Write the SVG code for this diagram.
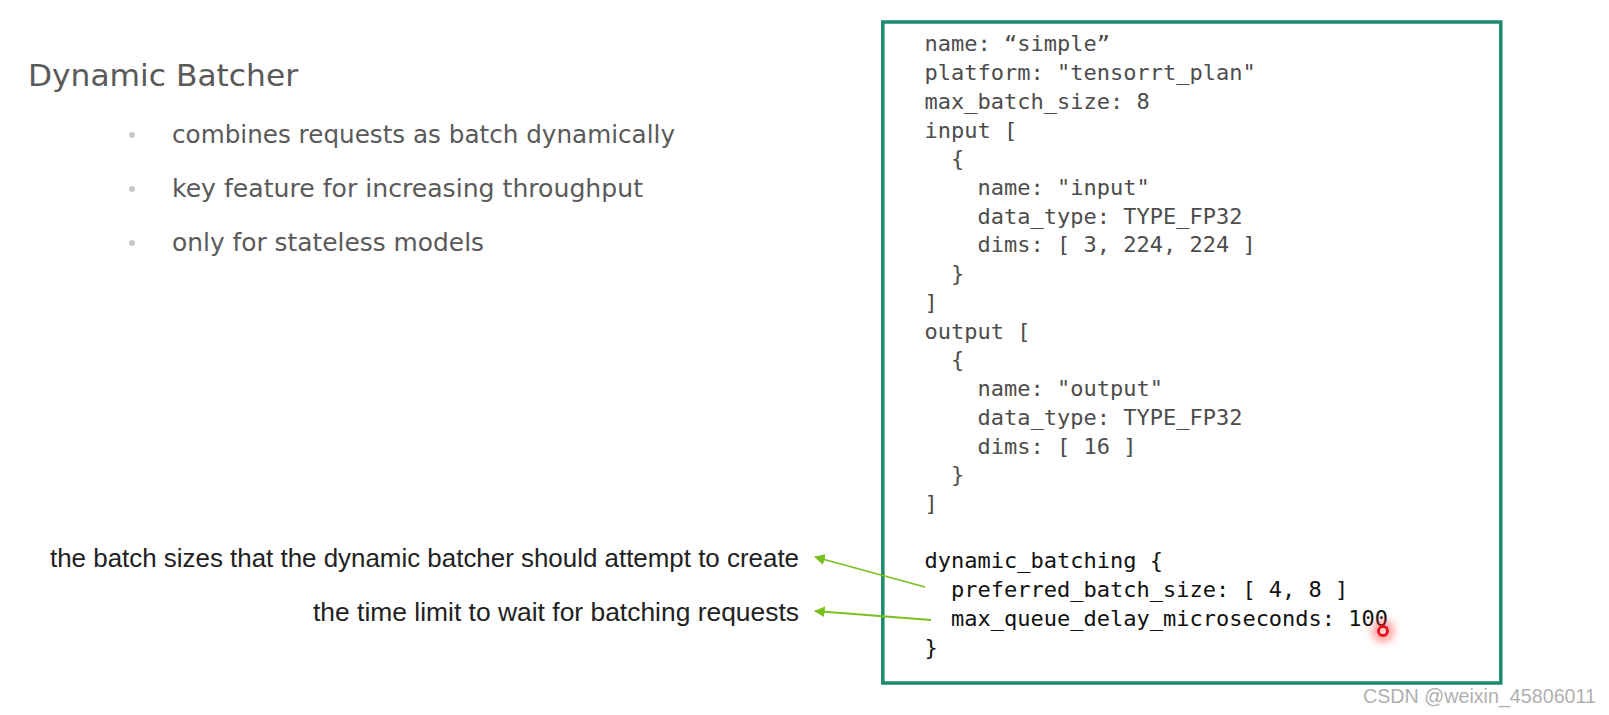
<svg xmlns="http://www.w3.org/2000/svg" width="1609" height="715" viewBox="0 0 1609 715">
<style>
.title{font-family:"DejaVu Sans",sans-serif;font-size:31px;fill:#5a5a5a}
.bul{font-family:"DejaVu Sans",sans-serif;font-size:24px;fill:#5a5a5a}
.dot{fill:#c8c8c8}
.code{font-family:"DejaVu Sans Mono","Liberation Mono",monospace;font-size:22px;fill:#4d4d4d;white-space:pre}
.code.dk{fill:#111}
.ann{font-family:"Liberation Sans",Arial,sans-serif;font-size:26px;fill:#222}
.conn{stroke:#7ac01f;stroke-width:1.8;fill:none}
.wm{font-family:"Liberation Sans",Arial,sans-serif;font-size:20px;fill:#b0b0b0}
</style>
<defs>
<marker id="ah" viewBox="0 0 10 10" refX="9" refY="5" markerWidth="6" markerHeight="6" orient="auto" markerUnits="strokeWidth">
<path d="M0,0 L10,5 L0,10 z" fill="#7ac01f"/>
</marker>
<filter id="glow" x="-1" y="-1" width="3" height="3"><feGaussianBlur stdDeviation="4"/></filter>
</defs>
<rect width="1609" height="715" fill="#ffffff"/>

<g id="title">
<text class="title" x="28" y="86" textLength="270" lengthAdjust="spacingAndGlyphs">Dynamic Batcher</text>
</g>

<g id="bullets">
<circle class="dot" cx="132" cy="135" r="3"/>
<text class="bul" x="172" y="143" textLength="503" lengthAdjust="spacingAndGlyphs">combines requests as batch dynamically</text>
<circle class="dot" cx="132" cy="189" r="3"/>
<text class="bul" x="172" y="197" textLength="471" lengthAdjust="spacingAndGlyphs">key feature for increasing throughput</text>
<circle class="dot" cx="132" cy="243" r="3"/>
<text class="bul" x="172" y="251" textLength="312" lengthAdjust="spacingAndGlyphs">only for stateless models</text>
</g>

<g id="config-box">
<rect x="882.8" y="22" width="618" height="661" fill="#ffffff" stroke="#1d8a6d" stroke-width="3.5"/>
<text class="code" x="924.5" y="51.3">name: “simple”</text>
<text class="code" x="924.5" y="80">platform: "tensorrt_plan"</text>
<text class="code" x="924.5" y="108.8">max_batch_size: 8</text>
<text class="code" x="924.5" y="137.5">input [</text>
<text class="code" x="924.5" y="166.2">  {</text>
<text class="code" x="924.5" y="195">    name: "input"</text>
<text class="code" x="924.5" y="223.7">    data_type: TYPE_FP32</text>
<text class="code" x="924.5" y="252.4">    dims: [ 3, 224, 224 ]</text>
<text class="code" x="924.5" y="281.1">  }</text>
<text class="code" x="924.5" y="309.9">]</text>
<text class="code" x="924.5" y="338.6">output [</text>
<text class="code" x="924.5" y="367.3">  {</text>
<text class="code" x="924.5" y="396.1">    name: "output"</text>
<text class="code" x="924.5" y="424.8">    data_type: TYPE_FP32</text>
<text class="code" x="924.5" y="453.5">    dims: [ 16 ]</text>
<text class="code" x="924.5" y="482.3">  }</text>
<text class="code" x="924.5" y="511">]</text>
<text class="code dk" x="924.5" y="568.4">dynamic_batching {</text>
<text class="code dk" x="924.5" y="597.2">  preferred_batch_size: [ 4, 8 ]</text>
<text class="code dk" x="924.5" y="625.9">  max_queue_delay_microseconds: 100</text>
<text class="code dk" x="924.5" y="654.6">}</text>
</g>

<g id="annotation-preferred">
<text class="ann" x="799" y="567" text-anchor="end" textLength="749" lengthAdjust="spacingAndGlyphs">the batch sizes that the dynamic batcher should attempt to create</text>
</g>
<g id="annotation-delay">
<text class="ann" x="799" y="621" text-anchor="end" textLength="486" lengthAdjust="spacingAndGlyphs">the time limit to wait for batching requests</text>
</g>

<g id="connectors">
<line class="conn" x1="925" y1="587" x2="815" y2="557" marker-end="url(#ah)"/>
<line class="conn" x1="931" y1="620" x2="815" y2="611" marker-end="url(#ah)"/>
</g>

<g id="cursor">
<circle cx="1383" cy="631" r="11" fill="#ff3030" opacity="0.5" filter="url(#glow)"/>
<circle cx="1383" cy="631" r="4.5" fill="#ffd0d0" stroke="#e8101a" stroke-width="2.8"/>
</g>

<g id="watermark">
<text class="wm" x="1363" y="703" textLength="233" lengthAdjust="spacingAndGlyphs">CSDN @weixin_45806011</text>
</g>
</svg>
